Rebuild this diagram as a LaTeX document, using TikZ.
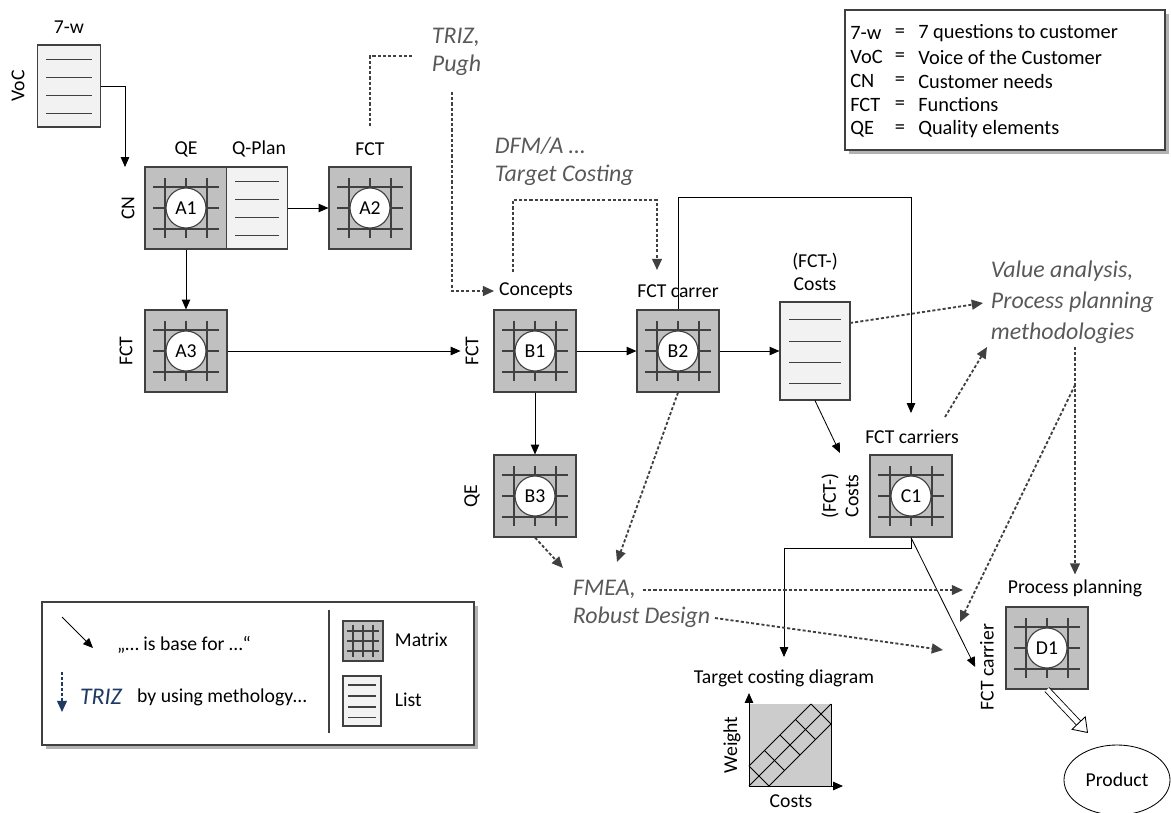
\documentclass[tikz,border=0pt]{standalone}
\usepackage{fontspec}
\setmainfont{Carlito}
\usetikzlibrary{arrows.meta,calc,shapes.geometric}

\definecolor{boxline}{HTML}{404040}
\definecolor{mtxfill}{HTML}{C0C0C0}
\definecolor{listfill}{HTML}{F2F2F2}
\definecolor{methgray}{HTML}{595959}
\definecolor{dotgray}{HTML}{404040}
\definecolor{trizblue}{HTML}{1F3864}

\newcommand\mainsz{\fontsize{14}{16}\selectfont}
\newcommand\itsz{\fontsize{17}{20}\selectfont\itshape}
\newcommand\legsz{\fontsize{14.5}{17}\selectfont}

\begin{document}
\begin{tikzpicture}[x=0.025cm, y=-0.025cm, font=\mainsz,
  mtxbox/.style = {draw=boxline, line width=0.8pt, fill=mtxfill, minimum size=2.05cm, inner sep=0pt,
    path picture={
      \foreach \d in {-21,0,21} {
        \draw[line width=0.8pt] ($(path picture bounding box.center)+(-33,\d)$) -- ($(path picture bounding box.center)+(33,\d)$);
        \draw[line width=0.8pt] ($(path picture bounding box.center)+(\d,-30)$) -- ($(path picture bounding box.center)+(\d,30)$);
      }
      \draw[boxline, line width=0.8pt, fill=white] (path picture bounding box.center) circle (0.5cm);}},
  minimtx/.style = {draw=boxline, line width=0.8pt, fill=mtxfill, minimum size=1cm, inner sep=0pt,
    path picture={
      \foreach \d in {-10,0,10} {
        \draw[line width=0.8pt] ($(path picture bounding box.center)+(-16,\d)$) -- ($(path picture bounding box.center)+(16,\d)$);
        \draw[line width=0.8pt] ($(path picture bounding box.center)+(\d,-16)$) -- ($(path picture bounding box.center)+(\d,16)$);
      }}},
  listbox/.style = {draw=boxline, line width=0.8pt, fill=listfill, inner sep=0pt,
    path picture={
      \foreach \f in {0.18,0.4,0.62,0.83}
        \draw[line width=0.8pt] ($(path picture bounding box.north west)!\f!(path picture bounding box.south west)+(#1,0)$)
          -- ($(path picture bounding box.north east)!\f!(path picture bounding box.south east)+(-#1,0)$);}},
  listbox/.default = 9,
  base/.style = {-{Triangle[length=7pt,width=6pt]}, line width=0.6pt},
  meth/.style = {dotgray, line width=1.3pt, dash pattern=on 2.2pt off 1.5pt},
  metharrow/.style = {meth, -{Triangle[length=8pt,width=7pt]}},
  methlab/.style = {font=\itsz, text=methgray, align=left, anchor=west},
  vlab/.style = {rotate=90},
  leg/.style = {font=\legsz, inner sep=0pt}
]
\useasboundingbox (0,0) rectangle (1171,812);

%Legend top right
\fill[gray!60] (849,14) rectangle (1169,154);
\draw[boxline, fill=white, line width=0.8pt] (845,10) rectangle (1165,150);
\foreach \abbr/\txt [count=\i] in {7-w/7 questions to customer, VoC/Voice of the Customer, CN/Customer needs, FCT/Functions, QE/Quality elements} {
  \node[leg, anchor=west] (ab\i) at (850, 9+24*\i) {\abbr};
  \node[leg] (eq\i) at (900, 9+24*\i) {=};
  \node[leg, anchor=west] (tx\i) at (918, 9+24*\i) {\txt};
}

%Phase A
\node[listbox, minimum width=1.575cm, minimum height=2.05cm] (voc) at (69,86) {};
\node (lab7w) at (69,27) {7-w};
\node[vlab] (voclab) at (18,86) {VoC};
\node[mtxbox] (a1) at (186,208) {A1};
\node[listbox, minimum width=1.525cm, minimum height=2.05cm] (qplan) at (257,208) {};
\node[mtxbox] (a2) at (370,208) {A2};
\node[mtxbox] (a3) at (186,351) {A3};
\node (qea1) at (186,149) {QE};
\node (qplanlab) at (259,149) {Q-Plan};
\node (fcta2) at (370,149) {FCT};
\node[vlab] (cna1) at (128,208) {CN};
\node[vlab] (fcta3) at (126,351) {FCT};

%Phase B
\node[mtxbox] (b1) at (535,351) {B1};
\node[mtxbox] (b2) at (678,351) {B2};
\node[mtxbox] (b3) at (535,496) {B3};
\node[listbox, minimum width=1.75cm, minimum height=2.45cm] (costs) at (815,351) {};
\node (conc) at (536,291) {Concepts};
\node (carrer) at (678,291) {FCT carrer};
\node[align=center] (costslab) at (815,272) {(FCT-)\\Costs};
\node[vlab] (fctb1) at (472,351) {FCT};
\node[vlab] (qeb3) at (472,496) {QE};

%Phase C and D
\node[mtxbox] (c1) at (911,496) {C1};
\node (carriers) at (912,437) {FCT carriers};
\node[vlab, align=center] (costlab) at (840,496) {(FCT-)\\Costs};
\node[mtxbox] (d1) at (1047,648) {D1};
\node (pp) at (1075,588) {Process planning};
\node[vlab] (fctc) at (987,667) {FCT carrier};
\node[ellipse, draw=black, line width=0.6pt, minimum width=2.65cm, minimum height=1.75cm] (product) at (1117,780) {Product};

%Target costing diagram
\node (tcd) at (784,678) {Target costing diagram};
\node[vlab] (weight) at (732,745) {Weight};
\node (costax) at (791,801) {Costs};
\fill[black!20] (749,704) rectangle (831,786);
\draw[line width=0.6pt] (749,786) -- (831,786) (831,704) -- (831,786);
\draw[base] (749,786) -- (749,693);
\draw[base] (749,786) -- (843,786);
\draw[line width=0.6pt] (749,766) -- (811,704) (749,786) -- (831,704) (769,786) -- (831,724);
\foreach \s in {0,15.5,31,46.5,62}
  \draw[line width=0.6pt] (749+\s,766-\s) -- (769+\s,786-\s);

%Methods
\node[methlab] (triz) at (427,52) {TRIZ,\\Pugh};
\node[methlab] (dfm) at (490,161) {DFM/A …\\Target Costing};
\node[methlab, font=\fontsize{17}{22}\selectfont\itshape] (vala) at (986,302) {Value analysis,\\Process planning\\methodologies};
\node[methlab] (fmea) at (568,604) {FMEA,\\Robust Design};

%Free ends of connectors
\coordinate (cntop) at (125,167);
\coordinate (fcstop) at (911,413);
\coordinate (costtop) at (840,453);
\coordinate (tcdtop) at (784,657);
\coordinate (prodtip) at (1088,733);
\coordinate (trizfoot) at (412,56);
\coordinate (trizend) at (370,128);
\coordinate (pughfoot) at (452,92);
\coordinate (dfmL) at (513,272);
\coordinate (dfmR) at (657,270);
\coordinate (costsR) at (850,323);
\coordinate (valtip) at (983,303);
\coordinate (carrR) at (945,417);
\coordinate (valtip2) at (987,347);
\coordinate (methfoot) at (1075,347);
\coordinate (methsplit) at (1075,385);
\coordinate (methtip) at (960,622);
\coordinate (fmeatip1) at (563,568);
\coordinate (fmeatip2) at (617,562);
\coordinate (fmeaR) at (643,590);
\coordinate (fmeatip3) at (963,590);
\coordinate (robR) at (715,618);
\coordinate (robtip) at (943,650);

%Is base for
\draw[base] (voc.east) -| (cntop);
\draw[base] (qplan.east) -- (a2.west);
\draw[base] (a1.south) -- (a3.north);
\draw[base] (a3.east) -- (fctb1.north);
\draw[base] (b1.east) -- (b2.west);
\draw[base] (b2.east) -- (costs.west);
\draw[base] (b1.south) -- (b3.north);
\draw[base] (b2.north) -- ++(0,-112) -| (fcstop);
\draw[base] (costs.south) -- (costtop);
\draw[base] (c1.south) -- ++(0,11) -| (tcdtop);
\draw[base] (c1.south) -- (fctc.north);
\draw[double=white, double distance=3.5pt, line width=0.6pt, -{Triangle[open,length=10pt,width=14pt]}] (d1.south) -- (prodtip);

%By using methology
\draw[meth] (trizfoot) -| (trizend);
\draw[metharrow] (pughfoot) |- (conc.west);
\draw[metharrow] (dfmL) |- (585,200) -| (dfmR);
\draw[metharrow] (costsR) -- (valtip);
\draw[metharrow] (carrR) -- (valtip2);
\draw[metharrow] (methfoot) -- (pp.north);
\draw[metharrow] (methsplit) -- (methtip);
\draw[metharrow] (b3.south) -- (fmeatip1);
\draw[metharrow] (b2.south) -- (fmeatip2);
\draw[metharrow] (fmeaR) -- (fmeatip3);
\draw[metharrow] (robR) -- (robtip);

%Legend bottom left
\fill[gray!60] (46,606) rectangle (478,749);
\draw[boxline, fill=white, line width=0.8pt] (42,602) rectangle (474,745);
\coordinate (legA) at (62,617);
\coordinate (legB) at (93,648);
\coordinate (legC) at (62,672);
\coordinate (legD) at (62,712);
\draw[base] (legA) -- (legB);
\node (baselab) at (184,645) {„… is base for …“};
\draw[metharrow, trizblue] (legC) -- (legD);
\node[font=\itsz, text=trizblue] (trizlab) at (101,697) {TRIZ};
\node (usinglab) at (222,697) {by using methology…};
\draw[boxline, line width=0.8pt] (329,610) -- (329,733);
\node[minimtx] (mtxicon) at (363,641) {};
\node[anchor=west] (mtxlab) at (390,640) {Matrix};
\node[listbox=5, minimum width=0.95cm, minimum height=1.25cm] (listicon) at (362,701) {};
\node[anchor=west] (listlab) at (390,700) {List};
\end{tikzpicture}
\end{document}
